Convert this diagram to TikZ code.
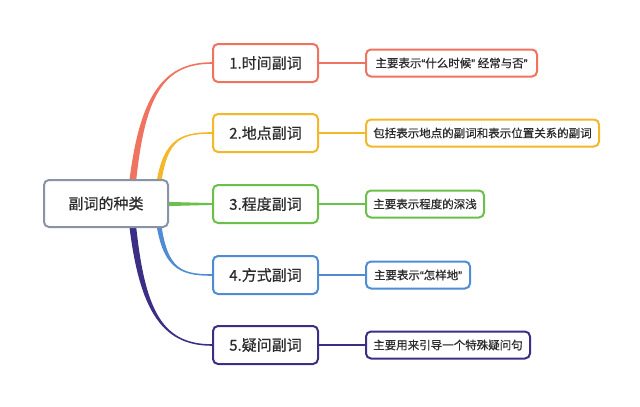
\documentclass[tikz,border=0pt]{standalone}
\usepackage{fontspec}
\setmainfont{Noto Sans CJK SC}[FakeBold=0.6]
\newfontfamily\qfont{Liberation Sans}[FakeBold=0.6]
\newcommand{\qopen}{{\qfont “}}
\newcommand{\qclose}{{\qfont ”}}
\usetikzlibrary{calc, positioning, backgrounds}
\definecolor{mmRed}{HTML}{F0735F}
\definecolor{mmOrange}{HTML}{F5B72A}
\definecolor{mmGreen}{HTML}{6BBF4B}
\definecolor{mmBlue}{HTML}{4F8CD4}
\definecolor{mmPurple}{HTML}{3A2F85}
\definecolor{mmGrey}{HTML}{8893A5}
\definecolor{mmText}{HTML}{2B2B2B}
\tikzset{
  rootbox/.style  = {draw=mmGrey, line width=2pt, rounded corners=5pt, fill=white,
                     minimum width=124, minimum height=47, text=mmText,
                     font=\fontsize{15}{18}\selectfont},
  topicbox/.style = {draw=#1, line width=2pt, rounded corners=5pt, fill=white,
                     minimum width=105, minimum height=38, text=mmText,
                     font=\fontsize{15}{18}\selectfont},
  notebox/.style  = {draw=#1, line width=2pt, rounded corners=5pt, fill=white,
                     minimum height=27, inner xsep=6pt, text=mmText,
                     font=\fontsize{11.5}{14}\selectfont},
  link/.style     = {#1, line width=1.6pt},
}

\begin{document}
\begin{tikzpicture}[x=1pt,y=-1pt]
  \useasboundingbox (0,0) rectangle (640,407);
  \node[rootbox] (root) at (106,203.5) {副词的种类};
  \node[topicbox=mmRed]    (t1) at (265.5,63)  {1.时间副词};
  \node[topicbox=mmOrange] (t2) at (265.5,133) {2.地点副词};
  \node[topicbox=mmGreen]  (t3) at (265.5,204) {3.程度副词};
  \node[topicbox=mmBlue]   (t4) at (265.5,275) {4.方式副词};
  \node[topicbox=mmPurple] (t5) at (265.5,345) {5.疑问副词};
  \node[notebox=mmRed,    right=46 of t1, minimum width=171] (n1) {主要表示\qopen 什么时候\qclose{} 经常与否\qclose};
  \node[notebox=mmOrange, right=46 of t2, minimum width=233] (n2) {包括表示地点的副词和表示位置关系的副词};
  \node[notebox=mmGreen,  right=46 of t3, minimum width=118] (n3) {主要表示程度的深浅};
  \node[notebox=mmBlue,   right=46 of t4, minimum width=104] (n4) {主要表示\qopen 怎样地\qclose};
  \node[notebox=mmPurple, right=46 of t5, minimum width=164] (n5) {主要用来引导一个特殊疑问句};
  \begin{scope}[on background layer]
    \coordinate (s1) at (131,198);
    \coordinate (s2) at (157,198);
    \coordinate (s3) at (160,204);
    \coordinate (s4) at (157,209);
    \coordinate (s5) at (131,209);
    \fill[mmRed] ($(s1)+(-3.5,0)$) .. controls (137,100) and (160,62.2) .. ($(t1.west)+(0,-0.8)$)
      -- ($(t1.west)+(0,0.8)$) .. controls (160,63.8) and (143,100) .. ($(s1)+(3.5,0)$) -- cycle;
    \fill[mmOrange] ($(s2)+(-2.5,0)$) .. controls (160,140) and (178,132.2) .. ($(t2.west)+(0,-0.8)$)
      -- ($(t2.west)+(0,0.8)$) .. controls (178,133.8) and (165,140) .. ($(s2)+(2.5,0)$) -- cycle;
    \fill[mmGreen] ($(s3)+(0,-2.3)$) -- ($(t3.west)+(0,-0.9)$) -- ($(t3.west)+(0,0.9)$)
      -- ($(s3)+(0,2.3)$) -- cycle;
    \fill[mmBlue] ($(s4)+(-2.5,0)$) .. controls (160,268) and (178,275.8) .. ($(t4.west)+(0,0.8)$)
      -- ($(t4.west)+(0,-0.8)$) .. controls (178,274.2) and (165,268) .. ($(s4)+(2.5,0)$) -- cycle;
    \fill[mmPurple] ($(s5)+(-3.5,0)$) .. controls (137,308) and (160,345.8) .. ($(t5.west)+(0,0.8)$)
      -- ($(t5.west)+(0,-0.8)$) .. controls (160,344.2) and (143,308) .. ($(s5)+(3.5,0)$) -- cycle;
  \end{scope}
  \draw[link=mmRed]    (t1) -- (n1);
  \draw[link=mmOrange] (t2) -- (n2);
  \draw[link=mmGreen]  (t3) -- (n3);
  \draw[link=mmBlue]   (t4) -- (n4);
  \draw[link=mmPurple] (t5) -- (n5);
\end{tikzpicture}
\end{document}
